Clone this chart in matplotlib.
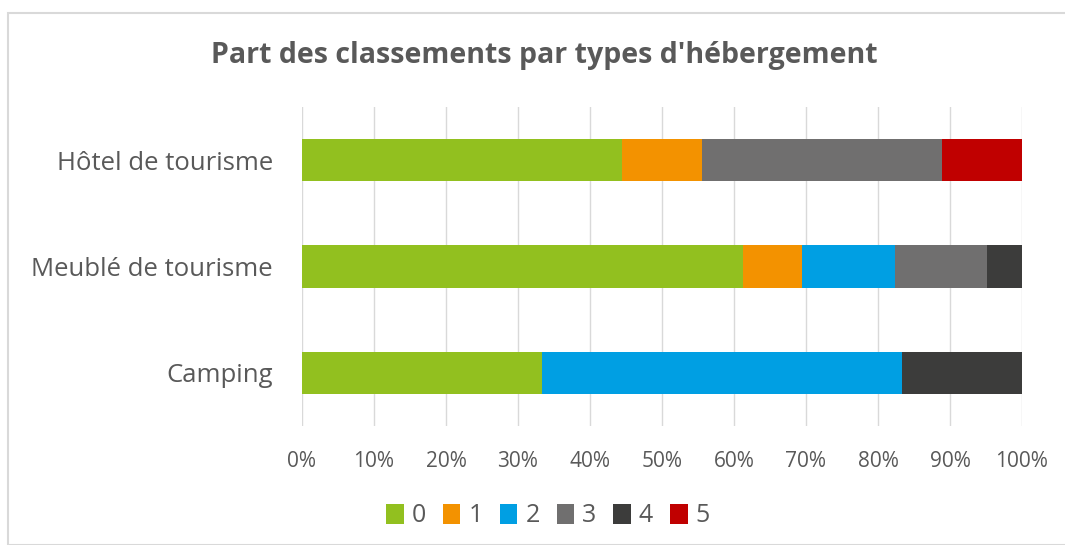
import numpy as np
import matplotlib.pyplot as plt
from matplotlib.patches import Rectangle

plt.rcParams['font.family'] = ['Open Sans', 'DejaVu Sans']

# categories, bottom to top
categories = ["Camping", "Meublé de tourisme", "Hôtel de tourisme"]
classes = ["0", "1", "2", "3", "4", "5"]
# share (%) of each class per category
shares = {
    "0": [33.3, 61.2, 44.4],
    "1": [0.0, 8.2, 11.1],
    "2": [50.0, 12.9, 0.0],
    "3": [0.0, 12.9, 33.4],
    "4": [16.7, 4.8, 0.0],
    "5": [0.0, 0.0, 11.1],
}
colors = ["#92C01F", "#F39200", "#009FE3", "#706F6F", "#3C3C3B", "#C00000"]
xticks = np.arange(0, 101, 10)
xticklabels = ["%d%%" % t for t in xticks]

W, H = 1065, 545
fig = plt.figure(figsize=(W / 100, H / 100), dpi=100)
fig.patch.set_facecolor("white")

# chart frame
fig.patches.append(Rectangle((8 / W, 0), 1.0, 1 - 13 / H, transform=fig.transFigure,
                             fill=False, edgecolor="#D9D9D9", linewidth=1.5))

ax = fig.add_axes([302 / W, 1 - 426 / H, 720 / W, 319 / H])
y = np.arange(len(categories))
left = np.zeros(len(categories))
for c, col in zip(classes, colors):
    vals = np.array(shares[c])
    ax.barh(y, vals, left=left, height=0.4, color=col, label=c, zorder=3)
    left += vals

ax.set_xlim(0, 100)
ax.set_ylim(-0.5, 2.5)
ax.set_xticks(xticks)
ax.set_xticklabels(xticklabels, color="#595959", fontsize=15)
ax.set_yticks(y)
ax.set_yticklabels(categories, color="#595959", fontsize=18.5)
ax.tick_params(axis="both", length=0)
ax.tick_params(axis="x", pad=18)
ax.tick_params(axis="y", pad=21)
ax.grid(axis="x", color="#D9D9D9", linewidth=1, zorder=0)
for s in ax.spines.values():
    s.set_visible(False)

fig.text(544 / W, 1 - 55 / H, "Part des classements par types d'hébergement",
         ha="center", va="center", fontsize=20.5, fontweight="bold", color="#595959")

leg = fig.legend(loc="center", bbox_to_anchor=(548 / W, 1 - 516 / H), ncol=6,
                 frameon=False, fontsize=18, handlelength=0.7, handleheight=0.9,
                 handletextpad=0.32, columnspacing=0.68, borderaxespad=0)
for t in leg.get_texts():
    t.set_color("#595959")

fig.savefig("out.png", dpi=100, facecolor="white")
